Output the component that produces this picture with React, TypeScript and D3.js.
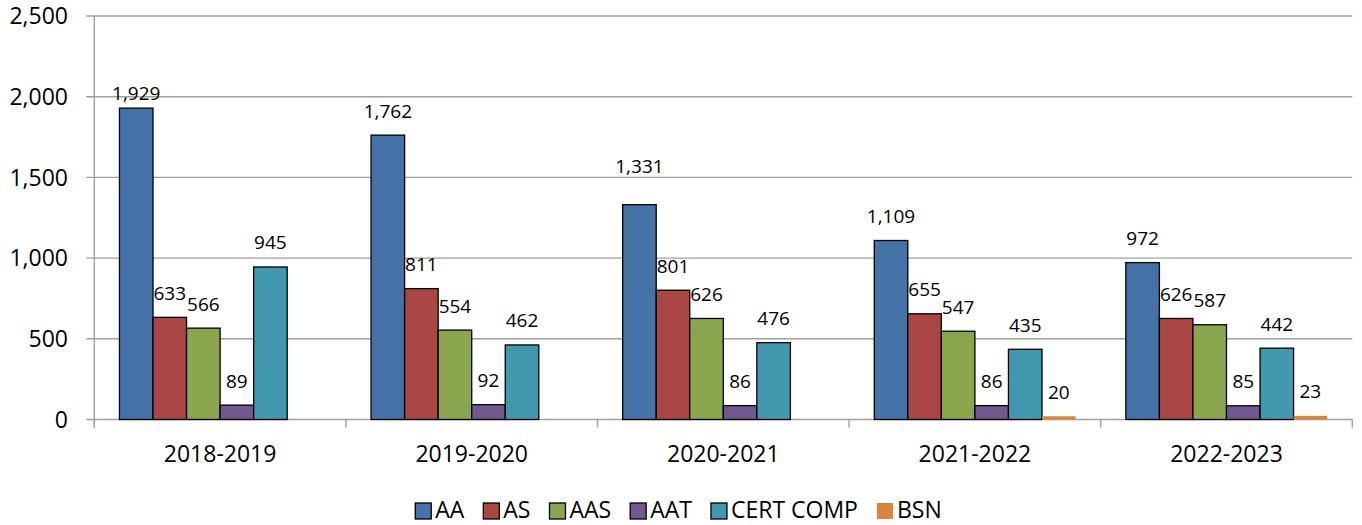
import React, { useRef, useEffect } from 'react';
import * as d3 from 'd3';

// degrees awarded per academic year
const years = ['2018-2019', '2019-2020', '2020-2021', '2021-2022', '2022-2023'];
const seriesNames = ['AA', 'AS', 'AAS', 'AAT', 'CERT COMP', 'BSN'];
const seriesColors = ['#4572A7', '#AA4643', '#89A54E', '#71588F', '#4198AF', '#DB843D'];

const aa = [1929, 1762, 1331, 1109, 972];
const as = [633, 811, 801, 655, 626];
const aas = [566, 554, 626, 547, 587];
const aat = [89, 92, 86, 86, 85];
const certComp = [945, 462, 476, 435, 442];
const bsn = [null, null, null, 20, 23];

const yTicks = [0, 500, 1000, 1500, 2000, 2500];

// a couple of labels were nudged by hand in the original
const labelNudge = { 'AA|2018-2019': -9, 'AA|2020-2021': 14 };

const FONT = '"Open Sans", sans-serif';

function App() {
  const svgRef = useRef(null);

  useEffect(() => {
    const left = 94.3;
    const right = 1352.3;
    const top = 16;
    const bottom = 419.5;

    const values = [aa, as, aas, aat, certComp, bsn];

    const svg = d3.select(svgRef.current);
    svg.selectAll('*').remove();

    const x0 = d3.scaleBand().domain(years).range([left, right]).paddingInner(0).paddingOuter(0);
    const x1 = d3.scaleBand().domain(seriesNames).range([0, x0.bandwidth()]).paddingInner(0).paddingOuter(0.75);
    const y = d3.scaleLinear().domain([0, 2500]).range([bottom, top]);
    const fmt = d3.format(',');

    // gridlines
    svg.append('g')
      .selectAll('line')
      .data(yTicks)
      .join('line')
        .attr('x1', left - 8)
        .attr('x2', right)
        .attr('y1', d => y(d))
        .attr('y2', d => y(d))
        .attr('stroke', '#a0a0a0')
        .attr('stroke-width', 1.4);

    // y labels
    svg.append('g')
      .selectAll('text')
      .data(yTicks)
      .join('text')
        .attr('x', 68)
        .attr('y', d => y(d))
        .attr('dy', '0.36em')
        .attr('text-anchor', 'end')
        .style('font', `23px ${FONT}`)
        .text(d => fmt(d));

    // axis lines
    svg.append('line')
      .attr('x1', left).attr('x2', left)
      .attr('y1', top).attr('y2', bottom + 8)
      .attr('stroke', '#a0a0a0').attr('stroke-width', 1.4);

    const bounds = years.map(d => x0(d)).concat([right]);
    svg.append('g')
      .selectAll('line')
      .data(bounds)
      .join('line')
        .attr('x1', d => d).attr('x2', d => d)
        .attr('y1', bottom).attr('y2', bottom + 8)
        .attr('stroke', '#a0a0a0').attr('stroke-width', 1.4);

    svg.append('g')
      .selectAll('text')
      .data(years)
      .join('text')
        .attr('x', d => x0(d) + x0.bandwidth() / 2)
        .attr('y', 462)
        .attr('text-anchor', 'middle')
        .style('font', `23px ${FONT}`)
        .text(d => d);

    // bars
    const bars = [];
    seriesNames.forEach((s, si) => {
      years.forEach((yr, yi) => {
        const v = values[si][yi];
        if (v == null) return;
        bars.push({ s, si, yr, v });
      });
    });

    svg.append('g')
      .selectAll('rect')
      .data(bars)
      .join('rect')
        .attr('x', d => x0(d.yr) + x1(d.s))
        .attr('y', d => y(d.v))
        .attr('width', x1.bandwidth())
        .attr('height', d => y(0) - y(d.v))
        .attr('fill', d => seriesColors[d.si])
        .attr('stroke', d => d.s === 'BSN' ? 'none' : '#000')
        .attr('stroke-width', 1.3);

    svg.append('g')
      .selectAll('text')
      .data(bars)
      .join('text')
        .attr('x', d => x0(d.yr) + x1(d.s) + x1.bandwidth() / 2)
        .attr('y', d => y(d.v) - 17.5 - (labelNudge[d.s + '|' + d.yr] || 0))
        .attr('text-anchor', 'middle')
        .style('font', `19px ${FONT}`)
        .text(d => fmt(d.v));

    // legend
    const legend = svg.append('g');
    const items = legend.selectAll('g')
      .data(seriesNames)
      .join('g');
    items.append('rect')
      .attr('width', 16)
      .attr('height', 16)
      .attr('y', 503)
      .attr('fill', (d, i) => seriesColors[i])
      .attr('stroke', d => d === 'BSN' ? 'none' : '#000')
      .attr('stroke-width', 1.3);
    items.append('text')
      .attr('x', 20)
      .attr('y', 518)
      .style('font', `23px ${FONT}`)
      .text(d => d);

    const gap = 19;
    let xpos = 0;
    const offsets = [];
    items.each(function () {
      offsets.push(xpos);
      const w = d3.select(this).select('text').node().getComputedTextLength();
      xpos += 20 + w + gap;
    });
    const total = xpos - gap;
    const start = 678.5 - total / 2;
    items.attr('transform', (d, i) => `translate(${start + offsets[i]},0)`);
  }, []);

  return (
    <svg
      ref={svgRef}
      width={1362}
      height={525}
      style={{ position: 'absolute', left: 0, top: 0, background: '#fff' }}
    />
  );
}

export default App;
